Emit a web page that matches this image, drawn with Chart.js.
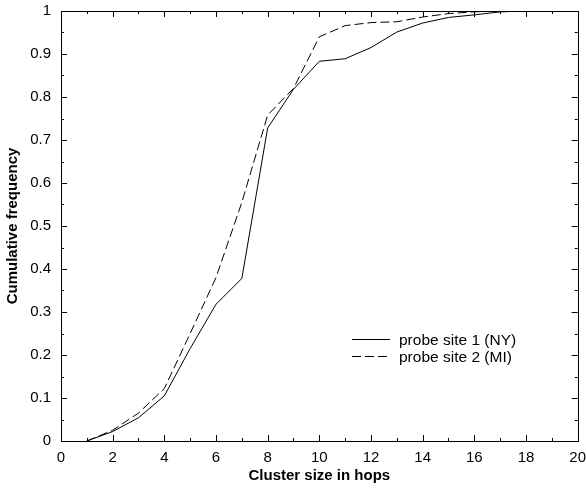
<!DOCTYPE html>
<html>
<head>
    <title>Cluster size CDF</title>
    <script src="https://cdn.jsdelivr.net/npm/chart.js"></script>
    <style>
        html, body { margin: 0; padding: 0; background: #fff; }
        #wrap { width: 586px; height: 489px; }
    </style>
</head>
<body>
    <div id="wrap"><canvas id="cdfChart" width="586" height="489"></canvas></div>

    <script>
        // cluster sizes (hops) and cumulative frequencies per probe site
        var hops = [1, 2, 3, 4, 5, 6, 7, 8, 9, 10, 11, 12, 13, 14, 15, 16, 17, 18, 19];
        var siteNY = [0, 0.022, 0.054, 0.105, 0.215, 0.318, 0.378, 0.728, 0.818, 0.883, 0.889, 0.915, 0.951, 0.972, 0.985, 0.991, 0.998, 1, 1];
        var siteMI = [0, 0.025, 0.065, 0.122, 0.25, 0.38, 0.555, 0.758, 0.82, 0.94, 0.966, 0.973, 0.975, 0.986, 0.994, 0.998, 1, 1, 1];
        var seriesLabels = ['probe site 1 (NY)', 'probe site 2 (MI)'];
        var xTicks = [0, 2, 4, 6, 8, 10, 12, 14, 16, 18, 20];
        var yTicks = [0, 0.1, 0.2, 0.3, 0.4, 0.5, 0.6, 0.7, 0.8, 0.9, 1];

        function toPoints(vals) {
            return hops.map(function(h, i) { return { x: h, y: vals[i] }; });
        }

        var FONT = '"Liberation Sans", Arial, sans-serif';

        // frame, inside ticks on all four sides, and an in-plot legend
        var framePlugin = {
            id: 'frame',
            afterDatasetsDraw: function(chart) {
                var ctx = chart.ctx;
                var a = chart.chartArea;
                var xs = chart.scales.x, ys = chart.scales.y;
                ctx.save();
                ctx.strokeStyle = '#000';
                ctx.lineWidth = 1;
                ctx.strokeRect(Math.round(a.left) + 0.5, Math.round(a.top) + 0.5,
                    Math.round(a.right - a.left), Math.round(a.bottom - a.top));
                ctx.beginPath();
                for (var v = 0; v <= 20; v++) {
                    var len = v % 2 === 0 ? 6 : 3;
                    var px = Math.round(xs.getPixelForValue(v)) + 0.5;
                    ctx.moveTo(px, a.bottom); ctx.lineTo(px, a.bottom - len);
                    ctx.moveTo(px, a.top); ctx.lineTo(px, a.top + len);
                }
                for (var k = 0; k <= 20; k++) {
                    var l2 = k % 2 === 0 ? 6 : 3;
                    var py = Math.round(ys.getPixelForValue(k * 0.05)) + 0.5;
                    ctx.moveTo(a.left, py); ctx.lineTo(a.left + l2, py);
                    ctx.moveTo(a.right, py); ctx.lineTo(a.right - l2, py);
                }
                ctx.stroke();

                // legend
                ctx.font = '15.5px ' + FONT;
                ctx.fillStyle = '#000';
                ctx.textBaseline = 'middle';
                chart.data.datasets.forEach(function(ds, i) {
                    var y = 339.5 + i * 17;
                    ctx.setLineDash(ds.borderDash || []);
                    ctx.beginPath();
                    ctx.moveTo(352, y); ctx.lineTo(390, y);
                    ctx.stroke();
                    ctx.setLineDash([]);
                    ctx.fillText(ds.label, 399, y + 1);
                });
                ctx.restore();
            }
        };

        var cdfChart = new Chart(document.getElementById('cdfChart').getContext('2d'), {
            type: 'line',
            data: {
                datasets: [{
                    label: seriesLabels[0],
                    data: toPoints(siteNY),
                    borderColor: '#000',
                    borderWidth: 1,
                    pointRadius: 0,
                    tension: 0,
                    fill: false
                }, {
                    label: seriesLabels[1],
                    data: toPoints(siteMI),
                    borderColor: '#000',
                    borderWidth: 1,
                    borderDash: [9, 4],
                    pointRadius: 0,
                    tension: 0,
                    fill: false
                }]
            },
            options: {
                responsive: false,
                animation: false,
                events: [],
                layout: { padding: { top: 11, right: 8, left: 0, bottom: 0 } },
                plugins: { legend: { display: false }, tooltip: { enabled: false } },
                scales: {
                    x: {
                        type: 'linear',
                        min: 0,
                        max: 20,
                        grid: { display: false },
                        border: { display: false },
                        afterBuildTicks: function(s) { s.ticks = xTicks.map(function(v) { return { value: v }; }); },
                        afterFit: function(s) { s.height = 48; },
                        ticks: { color: '#000', font: { family: FONT, size: 15 }, padding: 0, maxRotation: 0 },
                        title: { display: true, text: 'Cluster size in hops', color: '#000',
                                 font: { family: FONT, size: 15, weight: 'bold' }, padding: { top: 1 } }
                    },
                    y: {
                        min: 0,
                        max: 1,
                        grid: { display: false },
                        border: { display: false },
                        afterBuildTicks: function(s) { s.ticks = yTicks.map(function(v) { return { value: v }; }); },
                        afterFit: function(s) { s.width = 61; },
                        ticks: {
                            color: '#000', font: { family: FONT, size: 15 }, padding: 2,
                            callback: function(v) { return String(+v.toFixed(1)); }
                        },
                        title: { display: true, text: 'Cumulative frequency', color: '#000',
                                 font: { family: FONT, size: 15, weight: 'bold' }, padding: { bottom: 0 } }
                    }
                }
            },
            plugins: [framePlugin]
        });
    </script>
</body>
</html>
